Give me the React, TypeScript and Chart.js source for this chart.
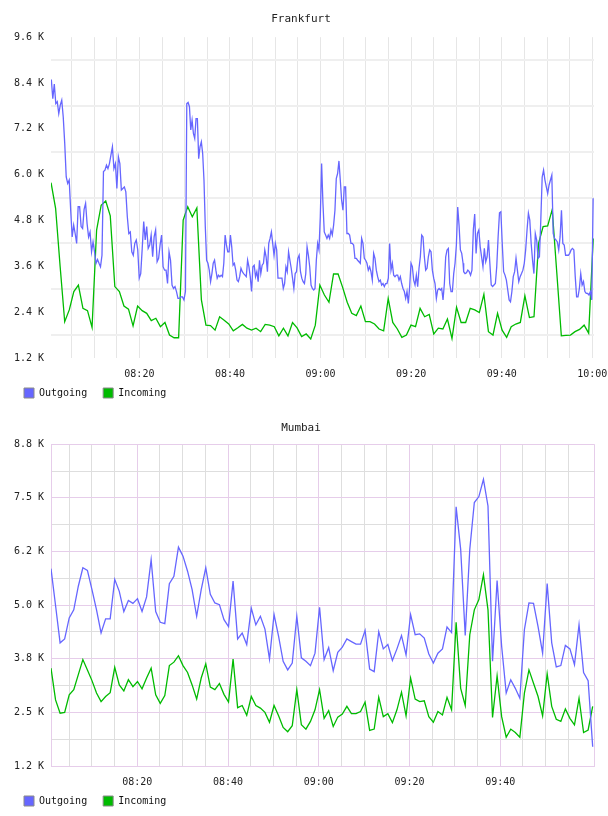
import React, { useEffect, useRef } from 'react';
import { Chart, registerables } from 'chart.js';

Chart.register(...registerables);

const FONT = '"DejaVu Sans Mono", monospace';
const OUT_COLOR = '#6666ff';
const IN_COLOR = '#00bb00';
const SERIES_NAMES = ['Outgoing', 'Incoming'];

// ---------------- Frankfurt ----------------
// minutes after 08:00
const FRA_X_RANGE = [0.49, 120.37];
const FRA_X_TICKS = [5, 10, 15, 20, 25, 30, 35, 40, 45, 50, 55, 60, 65, 70, 75, 80, 85, 90, 95, 100, 105, 110, 115, 120];
const FRA_Y_RANGE = [1.2, 9.6];
const FRA_Y_LABELS = ['1.2 K', '2.4 K', '3.6 K', '4.8 K', '6.0 K', '7.2 K', '8.4 K', '9.6 K'];

const FRA_IN_SPAN = [0.5, 120.2];
const FRA_IN = [
  5.79, 5.12, 3.59, 2.15, 2.46, 2.94, 3.11, 2.50, 2.44, 2.00,
  4.55, 5.20, 5.31, 4.92, 3.07, 2.94, 2.56, 2.48, 2.04, 2.56,
  2.44, 2.37, 2.18, 2.24, 2.02, 2.13, 1.80, 1.73, 1.73, 4.81,
  5.16, 4.90, 5.13, 2.72, 2.06, 2.05, 1.93, 2.28, 2.19, 2.09,
  1.91, 1.99, 2.08, 1.98, 1.93, 1.98, 1.89, 2.08, 2.06, 2.02,
  1.78, 1.98, 1.78, 2.13, 1.99, 1.76, 1.83, 1.70, 2.06, 3.11,
  2.85, 2.66, 3.40, 3.40, 3.05, 2.66, 2.37, 2.31, 2.56, 2.15,
  2.15, 2.09, 1.96, 1.91, 2.76, 2.13, 1.96, 1.74, 1.80, 2.06,
  2.02, 2.50, 2.28, 2.34, 1.83, 1.98, 1.96, 2.22, 1.71, 2.53,
  2.13, 2.13, 2.50, 2.46, 2.39, 2.87, 1.89, 1.80, 2.37, 1.93,
  1.74, 2.02, 2.09, 2.13, 2.83, 2.26, 2.28, 4.20, 4.64, 4.66,
  5.09, 3.44, 1.78, 1.79, 1.80, 1.89, 1.95, 2.06, 1.85, 4.33,
];

const FRA_OUT_SPANS = [[0.56, 30.17], [30.47, 61.11], [61.41, 91.46], [91.6, 120.18]];
const FRA_OUT_A = [
  8.49, 7.99, 8.37, 7.86, 7.91, 7.60, 7.82, 7.95, 7.51, 6.82,
  5.94, 5.77, 5.86, 5.07, 4.37, 4.68, 4.46, 4.20, 5.16, 5.16,
  4.64, 4.59, 5.09, 5.25, 4.72, 4.37, 4.50, 3.98, 4.24, 3.98,
  3.68, 3.78, 3.68, 3.59, 3.89, 6.08, 6.12, 6.25, 6.16, 6.29,
  6.51, 6.73, 6.16, 6.29, 5.64, 6.47, 6.29, 5.60, 5.64, 5.68,
  5.55, 4.90, 4.46, 4.50, 3.98, 3.89, 4.20, 4.29, 4.03, 3.29,
  3.41, 4.07, 4.77, 4.29, 4.64, 4.07, 4.16, 4.42, 3.85, 4.37,
  4.55, 3.72, 3.81, 4.16, 4.42, 3.59, 3.50, 3.50, 3.15, 3.98,
  3.76, 3.11, 3.02, 3.07, 2.94, 2.76, 2.76, 2.80, 2.80, 2.72,
  2.94,
];
const FRA_OUT_B = [
  7.86, 7.89, 7.78, 7.17, 7.43, 7.08, 6.95, 7.47, 7.47, 6.42,
  6.73, 6.86, 6.56, 5.86, 4.64, 3.76, 3.68, 3.50, 3.20, 3.41,
  3.68, 3.76, 3.50, 3.29, 3.37, 3.33, 3.37, 3.33, 3.68, 4.42,
  4.16, 3.98, 3.98, 4.42, 4.11, 3.63, 3.68, 3.50, 3.24, 3.20,
  3.33, 3.55, 3.46, 3.41, 3.37, 3.33, 3.76, 3.59, 3.33, 2.94,
  3.59, 3.63, 3.33, 3.46, 3.20, 3.76, 3.41, 3.63, 3.68, 4.03,
  3.85, 3.46, 4.20, 4.33, 4.50, 4.20, 3.89, 4.20, 4.03, 3.29,
  3.29, 3.29, 3.29, 3.02, 3.15, 3.59, 3.46, 3.98, 3.76, 3.55,
  3.29, 3.02, 3.41, 3.46, 3.81, 3.89, 3.46, 3.29, 3.20, 3.15,
  3.41, 4.11, 3.89, 3.59, 3.11, 3.02, 2.98, 3.02, 3.76, 4.20,
  4.03, 4.90, 6.29, 5.25, 4.50, 4.42,
];
const FRA_OUT_C = [
  4.33, 4.42, 4.33, 4.55, 4.42, 4.68, 5.07, 5.90, 6.03, 6.36,
  5.86, 5.33, 5.07, 5.68, 5.68, 4.46, 4.46, 4.42, 4.20, 4.20,
  4.16, 3.81, 3.81, 3.76, 3.72, 3.68, 4.33, 4.20, 3.81, 3.76,
  3.68, 3.50, 3.59, 3.46, 3.24, 3.94, 3.81, 3.50, 3.33, 3.20,
  3.24, 3.11, 3.15, 3.07, 3.15, 3.15, 3.29, 4.20, 3.50, 3.68,
  3.37, 3.33, 3.37, 3.37, 3.24, 3.33, 3.15, 3.02, 2.94, 2.76,
  2.94, 2.63, 3.07, 3.68, 3.59, 3.24, 3.11, 3.37, 3.07, 3.55,
  3.85, 4.42, 4.37, 3.85, 3.50, 3.55, 3.85, 4.03, 3.98, 3.50,
  3.29, 3.15, 2.76, 2.98, 3.02, 2.98, 3.02, 2.72, 3.15, 3.85,
  4.03, 4.07, 3.15, 2.94, 2.94, 3.41, 3.68, 4.16, 5.15, 4.68,
  4.03, 3.94, 3.68,
];
const FRA_OUT_D = [
  3.46, 3.41, 3.43, 3.50, 3.46, 3.37, 3.50, 4.55, 4.97, 3.94,
  4.46, 4.55, 4.11, 3.85, 3.59, 4.07, 3.72, 3.85, 4.29, 3.68,
  3.11, 3.07, 3.11, 3.15, 3.59, 4.37, 5.00, 5.03, 4.20, 3.46,
  3.37, 3.24, 2.98, 2.72, 2.67, 2.94, 3.33, 3.46, 3.81, 3.50,
  3.20, 3.33, 3.41, 3.50, 3.68, 4.03, 4.55, 4.99, 4.81, 4.20,
  3.76, 3.41, 4.46, 4.29, 3.81, 3.85, 4.81, 5.94, 6.12, 5.86,
  5.68, 5.51, 5.73, 5.86, 5.99, 4.46, 4.33, 4.29, 4.24, 4.03,
  4.37, 5.07, 4.20, 4.16, 3.89, 3.89, 3.89, 3.94, 4.03, 4.07,
  4.03, 3.33, 2.80, 2.80, 3.02, 3.41, 3.11, 3.20, 2.94, 2.89,
  2.89, 2.85, 2.94, 2.72, 5.38,
];

// ---------------- Mumbai ----------------
const MUM_X_RANGE = [0.99, 120.66];
const MUM_X_TICKS = [5, 10, 15, 20, 25, 30, 35, 40, 45, 50, 55, 60, 65, 70, 75, 80, 85, 90, 95, 100, 105, 110, 115];
const MUM_Y_RANGE = [1.25, 8.75];
const MUM_Y_LABELS = ['1.2 K', '2.5 K', '3.8 K', '5.0 K', '6.2 K', '7.5 K', '8.8 K'];
const MUM_SPAN = [0.99, 120.37];
const MUM_OUT = [
  5.85, 4.99, 4.12, 4.21, 4.70, 4.89, 5.44, 5.87, 5.81, 5.36,
  4.89, 4.35, 4.68, 4.68, 5.60, 5.32, 4.85, 5.11, 5.04, 5.15,
  4.85, 5.19, 6.06, 4.85, 4.60, 4.57, 5.50, 5.67, 6.35, 6.14,
  5.79, 5.36, 4.74, 5.36, 5.87, 5.25, 5.05, 5.01, 4.66, 4.50,
  5.56, 4.21, 4.35, 4.08, 4.93, 4.54, 4.74, 4.44, 3.74, 4.78,
  4.27, 3.69, 3.49, 3.65, 4.74,
  3.77, 3.69, 3.59, 3.88, 4.95, 3.73, 4.01, 3.47, 3.90, 4.02,
  4.21, 4.15, 4.09, 4.09, 4.41, 3.51, 3.45, 4.38, 3.98, 4.08,
  3.71, 3.98, 4.29, 3.84, 4.78, 4.31, 4.33, 4.23, 3.86, 3.65,
  3.88, 3.98, 4.49, 4.36, 7.29, 6.30, 4.29, 6.30, 7.39, 7.53,
  7.93, 7.31, 3.69, 5.57, 4.04, 2.95, 3.26, 3.06, 2.83, 4.43,
  5.05, 5.04, 4.50, 3.88, 5.50, 4.12, 3.56, 3.59, 4.06, 3.98,
  3.61, 4.54, 3.43, 3.24, 1.70,
];
const MUM_IN = [
  3.53, 2.79, 2.48, 2.50, 2.91, 3.03, 3.38, 3.73, 3.49, 3.24,
  2.95, 2.75, 2.87, 2.96, 3.55, 3.14, 3.00, 3.26, 3.10, 3.22,
  3.05, 3.30, 3.53, 2.91, 2.71, 2.89, 3.59, 3.67, 3.82, 3.59,
  3.43, 3.14, 2.81, 3.30, 3.63, 3.09, 3.03, 3.17, 2.92, 2.74,
  3.74, 2.61, 2.66, 2.43, 2.87, 2.66, 2.60, 2.50, 2.27, 2.66,
  2.42, 2.15, 2.05, 2.19, 3.03,
  2.21, 2.11, 2.29, 2.56, 3.03, 2.36, 2.54, 2.17, 2.39, 2.46,
  2.64, 2.47, 2.47, 2.52, 2.74, 2.08, 2.11, 2.85, 2.40, 2.47,
  2.26, 2.56, 2.97, 2.42, 3.30, 2.81, 2.75, 2.77, 2.40, 2.27,
  2.52, 2.44, 2.85, 2.56, 4.60, 3.06, 2.66, 4.31, 4.89, 5.13,
  5.71, 4.89, 2.38, 3.35, 2.40, 1.92, 2.11, 2.03, 1.92, 2.95,
  3.49, 3.18, 2.87, 2.42, 3.40, 2.64, 2.34, 2.29, 2.58, 2.36,
  2.21, 2.83, 2.03, 2.09, 2.64,
];

// ---------------- helpers ----------------
function spread(values: number[], span: number[]) {
  const step = (span[1] - span[0]) / (values.length - 1);
  return values.map((y, i) => ({ x: span[0] + i * step, y }));
}

function fmtTime(m: number) {
  const h = 8 + Math.floor(m / 60);
  const mm = Math.round(m % 60);
  return String(h).padStart(2, '0') + ':' + String(mm).padStart(2, '0');
}

const TRANSPARENT = 'rgba(0,0,0,0)';

type PanelOpts = {
  title: string;
  titlePad: { top: number; bottom: number };
  outData: { x: number; y: number }[];
  inData: { x: number; y: number }[];
  xRange: number[];
  xTicks: number[];
  yRange: number[];
  yLabels: string[];
  framed: boolean;
};

// lets the x tick labels draw below the (deliberately short) x-axis box
const labelRoom = {
  id: 'labelRoom',
  afterLayout(chart: any) {
    const s = chart.scales.x;
    if (s) {
      s.bottom = s.top + 30;
      s.height = 30;
    }
  },
};

function buildConfig(o: PanelOpts): any {
  const MAJOR = '#e6cdea';
  const MINOR = '#dedede';
  const yStep = (o.yRange[1] - o.yRange[0]) / (2 * (o.yLabels.length - 1));
  const yTicks: number[] = [];
  for (let i = 0; i <= 2 * (o.yLabels.length - 1); i++) {
    yTicks.push(Math.round((o.yRange[0] + i * yStep) * 100000) / 100000);
  }
  const xTicks = o.framed ? [...o.xTicks, o.xRange[1]] : o.xTicks;
  return {
    type: 'line',
    data: {
      datasets: [
        {
          label: SERIES_NAMES[0],
          data: o.outData,
          borderColor: OUT_COLOR,
          backgroundColor: OUT_COLOR,
          borderWidth: 1.3,
          pointRadius: 0,
          tension: 0,
          fill: false,
        },
        {
          label: SERIES_NAMES[1],
          data: o.inData,
          borderColor: IN_COLOR,
          backgroundColor: IN_COLOR,
          borderWidth: 1.3,
          pointRadius: 0,
          tension: 0,
          fill: false,
        },
      ],
    },
    plugins: [labelRoom],
    options: {
      animation: false,
      responsive: false,
      devicePixelRatio: 1,
      layout: { padding: { left: 0, right: 14, top: 0, bottom: 0 } },
      plugins: {
        tooltip: { enabled: false },
        title: {
          display: true,
          text: o.title,
          color: '#222',
          font: { family: FONT, size: 11, weight: 'normal' },
          padding: o.titlePad,
        },
        legend: {
          position: 'bottom',
          align: 'start',
          labels: {
            boxWidth: 10,
            boxHeight: 10,
            padding: 16,
            color: '#111',
            font: { family: FONT, size: 10 },
            generateLabels: (chart: any) =>
              Chart.defaults.plugins.legend.labels
                .generateLabels(chart)
                .map((l: any) => ({ ...l, strokeStyle: '#8a8a8a', lineWidth: 1 })),
          },
        },
      },
      scales: {
        x: {
          type: 'linear',
          min: o.xRange[0],
          max: o.xRange[1],
          afterBuildTicks: (scale: any) => {
            scale.ticks = xTicks.map((v) => ({ value: v }));
          },
          afterFit: (scale: any) => {
            scale.height = 14;
            scale.paddingLeft = 0;
            scale.paddingRight = 0;
          },
          border: { display: o.framed, color: MAJOR, width: 1 },
          grid: {
            drawTicks: false,
            color: (ctx: any) => {
              if (!o.framed) return '#e6e6e6';
              const v = ctx.tick ? ctx.tick.value : 0;
              return v % 20 === 0 || v === o.xRange[1] ? MAJOR : MINOR;
            },
            lineWidth: 1,
          },
          ticks: {
            autoSkip: false,
            maxRotation: 0,
            minRotation: 0,
            padding: 10,
            color: '#222',
            font: { family: FONT, size: 10 },
            callback: (v: number) => (v % 20 === 0 && v <= 120 ? fmtTime(v) : ''),
          },
        },
        y: {
          type: 'linear',
          min: o.yRange[0],
          max: o.yRange[1],
          afterBuildTicks: (scale: any) => {
            scale.ticks = yTicks.map((v) => ({ value: v }));
          },
          afterFit: (scale: any) => {
            scale.width = 43;
          },
          border: { display: o.framed, color: MAJOR, width: 1 },
          grid: {
            drawTicks: false,
            color: (ctx: any) => {
              const i = ctx.index;
              if (o.framed) return i % 2 === 0 ? MAJOR : MINOR;
              return i % 2 === 1 ? '#efefef' : TRANSPARENT;
            },
            lineWidth: () => (o.framed ? 1 : 2),
          },
          ticks: {
            autoSkip: false,
            padding: 7,
            color: '#222',
            font: { family: FONT, size: 10 },
            callback: (_v: number, i: number) => (i % 2 === 0 ? o.yLabels[i / 2] : ''),
          },
        },
      },
    },
  };
}

function Panel({ height, opts }: { height: number; opts: PanelOpts }) {
  const ref = useRef<HTMLCanvasElement | null>(null);
  useEffect(() => {
    if (!ref.current) return;
    const chart = new Chart(ref.current, buildConfig(opts));
    return () => chart.destroy();
  }, []);
  return <canvas ref={ref} width={600} height={height} style={{ display: 'block', width: 600, height }} />;
}

export default function App() {
  const fraOut = [
    ...spread(FRA_OUT_A, FRA_OUT_SPANS[0]),
    ...spread(FRA_OUT_B, FRA_OUT_SPANS[1]),
    ...spread(FRA_OUT_C, FRA_OUT_SPANS[2]),
    ...spread(FRA_OUT_D, FRA_OUT_SPANS[3]),
  ];
  const fraIn = spread(FRA_IN, FRA_IN_SPAN);
  const mumOut = spread(MUM_OUT, MUM_SPAN);
  const mumIn = spread(MUM_IN, MUM_SPAN);
  return (
    <div style={{ position: 'absolute', left: 8, top: 8, width: 600, height: 808, overflow: 'hidden', background: '#fff' }}>
      <Panel
        height={400}
        opts={{
          title: 'Frankfurt',
          titlePad: { top: 5, bottom: 11 },
          outData: fraOut,
          inData: fraIn,
          xRange: FRA_X_RANGE,
          xTicks: FRA_X_TICKS,
          yRange: FRA_Y_RANGE,
          yLabels: FRA_Y_LABELS,
          framed: false,
        }}
      />
      <Panel
        height={408}
        opts={{
          title: 'Mumbai',
          titlePad: { top: 14, bottom: 9 },
          outData: mumOut,
          inData: mumIn,
          xRange: MUM_X_RANGE,
          xTicks: MUM_X_TICKS,
          yRange: MUM_Y_RANGE,
          yLabels: MUM_Y_LABELS,
          framed: true,
        }}
      />
    </div>
  );
}
